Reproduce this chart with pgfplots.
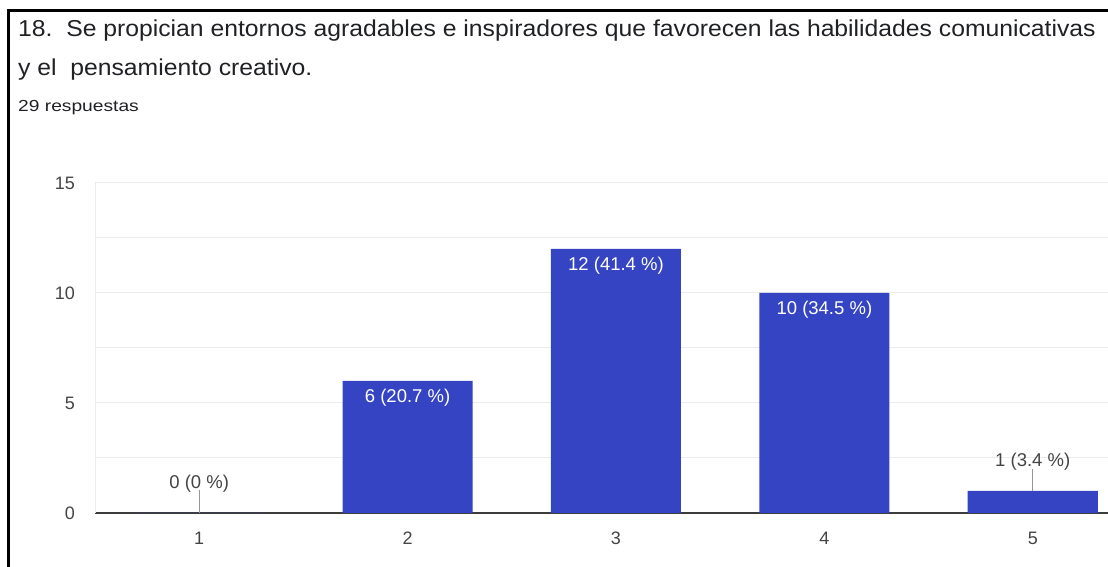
\documentclass[border=0pt]{standalone}
\usepackage{fontspec}
\setmainfont{Liberation Sans}
\usepackage{pgfplots}
\pgfplotsset{compat=1.18}
\definecolor{barblue}{RGB}{52,68,194}
\definecolor{gridc}{RGB}{236,236,236}
\definecolor{axc}{RGB}{60,60,60}
\definecolor{txt}{RGB}{32,33,36}
\definecolor{lab}{RGB}{68,68,68}
\definecolor{lead}{RGB}{150,150,150}
\begin{document}
\begin{tikzpicture}[x=1pt,y=1pt]
\useasboundingbox (0,0) rectangle (1108,567);
\clip (0,0) rectangle (1108,567);
\fill[white] (0,0) rectangle (1108,567);
\draw[black, line width=3pt] (8.5,0) -- (8.5,556) -- (1110,556);
\node[anchor=base west, inner sep=0pt, text=txt, font=\fontsize{23}{27}\selectfont] at (18,530) {\scalebox{1.075}[1]{18.\ \ Se propician entornos agradables e inspiradores que favorecen las habilidades comunicativas}};
\node[anchor=base west, inner sep=0pt, text=txt, font=\fontsize{23}{27}\selectfont] at (18,491) {\scalebox{1.075}[1]{y el\ \ pensamiento creativo.}};
\node[anchor=base west, inner sep=0pt, text=txt, font=\fontsize{16}{18}\selectfont] at (18,455) {\scalebox{1.2}[1]{29 respuestas}};
\begin{axis}[
  at={(95pt,54pt)}, anchor=south west,
  scale only axis, width=1042pt, height=330pt,
  xmin=0.5, xmax=5.5, ymin=0, ymax=15,
  xtick={1,2,3,4,5}, ytick={0,5,10,15}, minor ytick={2.5,7.5,12.5},
  major tick length=0pt, minor tick length=0pt,
  ymajorgrids, yminorgrids,
  major grid style={gridc, line width=1pt},
  minor grid style={gridc, line width=1pt},
  axis x line*=bottom, axis y line*=left,
  x axis line style={axc, line width=1.3pt},
  y axis line style={gridc, line width=1pt},
  /pgf/number format/assume math mode=true,
  tick label style={font=\fontsize{18}{20}\selectfont, text=lab, inner sep=0pt},
  yticklabel style={anchor=east, xshift=-20pt},
  xticklabel style={anchor=north, yshift=-19pt},
  clip=false,
]
\addplot[ybar, bar width=0.624, fill=barblue, draw=none,
  point meta=explicit symbolic, nodes near coords,
  nodes near coords style={anchor=base, yshift=-22pt, text=white, inner sep=0pt, font=\fontsize{18.5}{20}\selectfont}]
  coordinates {(2,6) [6 (20.7 \%)] (3,12) [12 (41.4 \%)] (4,10) [10 (34.5 \%)]};
\addplot[ybar, bar width=0.624, fill=barblue, draw=none,
  point meta=explicit symbolic, nodes near coords,
  nodes near coords style={anchor=base, yshift=24pt, text=lab, inner sep=0pt, font=\fontsize{18.5}{20}\selectfont}]
  coordinates {(1,0) [0 (0 \%)] (5,1) [1 (3.4 \%)]};
\draw[lead, line width=1pt] (axis cs:1,0) -- ++(0pt,23pt);
\draw[lead, line width=1pt] (axis cs:5,1) -- ++(0pt,22pt);
\end{axis}
\end{tikzpicture}
\end{document}
